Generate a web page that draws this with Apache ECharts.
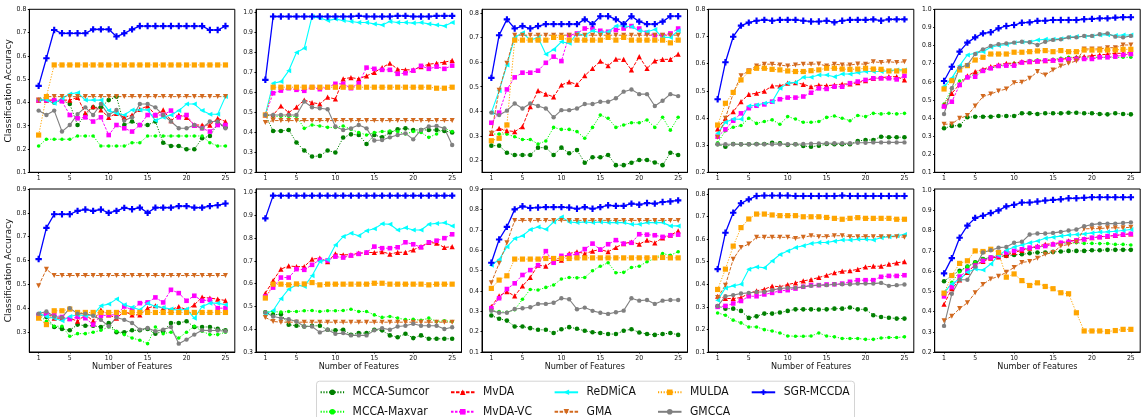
<!DOCTYPE html>
<html>
<head>
<meta charset="utf-8">
<title>Classification accuracy vs. number of features</title>
<script src="https://cdn.jsdelivr.net/npm/echarts@6.0.0/dist/echarts.min.js"></script>
<style>
  html, body { margin: 0; padding: 0; background: #ffffff; }
  #chart { width: 1142px; height: 417px; }
</style>
</head>
<body>
<div id="chart"></div>
<script>
// Number of selected features on the x axis of every panel
const featureCounts = [1, 2, 3, 4, 5, 6, 7, 8, 9, 10, 11, 12, 13, 14, 15, 16, 17, 18, 19, 20, 21, 22, 23, 24, 25];
const xTickValues = [1, 5, 10, 15, 20, 25];

// Accuracy per method: one row per panel (top row left to right, then bottom row)
const mccaSumcor = [
  [0.41, 0.41, 0.40, 0.41, 0.393, 0.303, 0.346, 0.379, 0.379, 0.41, 0.425, 0.303, 0.318, 0.303, 0.303, 0.318, 0.227, 0.213, 0.213, 0.199, 0.199, 0.246, 0.256, 0.308, 0.293],
  [0.487, 0.407, 0.407, 0.412, 0.349, 0.309, 0.279, 0.282, 0.309, 0.299, 0.374, 0.39, 0.387, 0.342, 0.387, 0.375, 0.399, 0.415, 0.42, 0.412, 0.412, 0.412, 0.412, 0.407, 0.399],
  [0.261, 0.261, 0.232, 0.223, 0.223, 0.223, 0.253, 0.253, 0.223, 0.253, 0.23, 0.243, 0.192, 0.214, 0.214, 0.223, 0.182, 0.182, 0.192, 0.203, 0.203, 0.193, 0.182, 0.232, 0.223],
  [0.303, 0.294, 0.304, 0.303, 0.303, 0.304, 0.304, 0.309, 0.307, 0.301, 0.303, 0.297, 0.294, 0.298, 0.304, 0.303, 0.303, 0.303, 0.315, 0.319, 0.319, 0.331, 0.329, 0.329, 0.329],
  [0.343, 0.356, 0.358, 0.404, 0.407, 0.407, 0.407, 0.411, 0.411, 0.411, 0.426, 0.426, 0.422, 0.426, 0.426, 0.426, 0.429, 0.429, 0.426, 0.426, 0.422, 0.42, 0.426, 0.422, 0.42],
  [0.372, 0.363, 0.321, 0.313, 0.307, 0.331, 0.326, 0.326, 0.321, 0.338, 0.299, 0.299, 0.307, 0.307, 0.313, 0.293, 0.303, 0.338, 0.338, 0.345, 0.321, 0.321, 0.321, 0.313, 0.307],
  [0.474, 0.463, 0.466, 0.42, 0.415, 0.412, 0.415, 0.415, 0.398, 0.395, 0.398, 0.376, 0.383, 0.383, 0.398, 0.395, 0.373, 0.365, 0.38, 0.361, 0.373, 0.358, 0.358, 0.358, 0.358],
  [0.279, 0.263, 0.254, 0.225, 0.225, 0.217, 0.209, 0.209, 0.193, 0.212, 0.222, 0.214, 0.204, 0.197, 0.193, 0.188, 0.188, 0.204, 0.212, 0.196, 0.188, 0.184, 0.188, 0.193, 0.184],
  [0.303, 0.292, 0.292, 0.282, 0.251, 0.258, 0.27, 0.27, 0.275, 0.282, 0.289, 0.289, 0.289, 0.288, 0.289, 0.292, 0.292, 0.297, 0.289, 0.289, 0.263, 0.255, 0.252, 0.248, 0.248],
  [0.55, 0.578, 0.602, 0.622, 0.643, 0.659, 0.667, 0.672, 0.675, 0.68, 0.683, 0.688, 0.692, 0.692, 0.695, 0.697, 0.7, 0.7, 0.7, 0.703, 0.703, 0.705, 0.705, 0.705, 0.705]
];
const mccaMaxvar = [
  [0.213, 0.242, 0.242, 0.242, 0.242, 0.256, 0.256, 0.256, 0.213, 0.213, 0.213, 0.213, 0.227, 0.227, 0.256, 0.256, 0.256, 0.256, 0.256, 0.256, 0.256, 0.256, 0.227, 0.213, 0.213],
  [0.487, 0.48, 0.48, 0.48, 0.48, 0.42, 0.437, 0.432, 0.425, 0.424, 0.432, 0.415, 0.399, 0.387, 0.399, 0.404, 0.407, 0.404, 0.392, 0.404, 0.399, 0.375, 0.392, 0.42, 0.404],
  [0.308, 0.308, 0.308, 0.297, 0.286, 0.286, 0.268, 0.28, 0.335, 0.327, 0.327, 0.318, 0.291, 0.335, 0.385, 0.372, 0.335, 0.345, 0.354, 0.354, 0.365, 0.335, 0.376, 0.324, 0.376],
  [0.309, 0.353, 0.366, 0.372, 0.399, 0.38, 0.387, 0.393, 0.377, 0.405, 0.396, 0.384, 0.384, 0.387, 0.402, 0.407, 0.399, 0.39, 0.409, 0.405, 0.417, 0.415, 0.417, 0.415, 0.417],
  [0.477, 0.564, 0.604, 0.624, 0.643, 0.665, 0.674, 0.687, 0.693, 0.702, 0.707, 0.717, 0.72, 0.72, 0.724, 0.729, 0.735, 0.735, 0.735, 0.735, 0.735, 0.735, 0.735, 0.735, 0.735],
  [0.372, 0.345, 0.324, 0.324, 0.282, 0.293, 0.293, 0.299, 0.307, 0.321, 0.303, 0.289, 0.275, 0.265, 0.251, 0.321, 0.293, 0.299, 0.275, 0.299, 0.324, 0.303, 0.289, 0.289, 0.299],
  [0.475, 0.478, 0.475, 0.478, 0.478, 0.481, 0.482, 0.478, 0.481, 0.481, 0.482, 0.488, 0.478, 0.478, 0.463, 0.452, 0.456, 0.449, 0.442, 0.444, 0.439, 0.449, 0.434, 0.437, 0.434],
  [0.303, 0.298, 0.295, 0.307, 0.359, 0.407, 0.404, 0.417, 0.429, 0.458, 0.466, 0.464, 0.466, 0.499, 0.521, 0.538, 0.489, 0.491, 0.515, 0.521, 0.543, 0.559, 0.583, 0.575, 0.592],
  [0.273, 0.263, 0.241, 0.229, 0.211, 0.211, 0.199, 0.193, 0.184, 0.171, 0.17, 0.17, 0.171, 0.184, 0.171, 0.167, 0.16, 0.16, 0.16, 0.156, 0.156, 0.162, 0.164, 0.164, 0.167],
  [0.485, 0.545, 0.597, 0.622, 0.643, 0.659, 0.67, 0.68, 0.687, 0.695, 0.703, 0.713, 0.719, 0.724, 0.732, 0.736, 0.74, 0.74, 0.737, 0.737, 0.736, 0.736, 0.732, 0.732, 0.729]
];
const mvda = [
  [0.41, 0.41, 0.41, 0.41, 0.41, 0.422, 0.353, 0.382, 0.368, 0.336, 0.353, 0.336, 0.346, 0.37, 0.385, 0.346, 0.368, 0.322, 0.346, 0.336, 0.303, 0.303, 0.303, 0.332, 0.318],
  [0.487, 0.487, 0.532, 0.499, 0.526, 0.562, 0.549, 0.542, 0.576, 0.567, 0.668, 0.674, 0.668, 0.683, 0.7, 0.724, 0.746, 0.716, 0.713, 0.713, 0.729, 0.741, 0.746, 0.751, 0.76],
  [0.311, 0.331, 0.322, 0.318, 0.338, 0.419, 0.484, 0.47, 0.459, 0.507, 0.52, 0.509, 0.545, 0.574, 0.604, 0.585, 0.612, 0.611, 0.568, 0.622, 0.574, 0.605, 0.611, 0.611, 0.632],
  [0.36, 0.399, 0.423, 0.46, 0.487, 0.491, 0.499, 0.518, 0.518, 0.528, 0.53, 0.524, 0.515, 0.521, 0.519, 0.521, 0.525, 0.525, 0.53, 0.537, 0.546, 0.548, 0.552, 0.552, 0.54],
  [0.472, 0.536, 0.586, 0.632, 0.656, 0.669, 0.683, 0.693, 0.702, 0.702, 0.711, 0.711, 0.715, 0.717, 0.72, 0.724, 0.729, 0.735, 0.739, 0.744, 0.748, 0.752, 0.757, 0.757, 0.761],
  [0.372, 0.379, 0.358, 0.358, 0.358, 0.345, 0.372, 0.347, 0.393, 0.372, 0.358, 0.386, 0.372, 0.372, 0.4, 0.41, 0.4, 0.393, 0.407, 0.393, 0.414, 0.446, 0.442, 0.438, 0.432],
  [0.558, 0.614, 0.664, 0.678, 0.675, 0.675, 0.708, 0.712, 0.697, 0.731, 0.727, 0.727, 0.734, 0.737, 0.737, 0.741, 0.73, 0.738, 0.738, 0.749, 0.763, 0.781, 0.778, 0.759, 0.763],
  [0.323, 0.375, 0.396, 0.375, 0.424, 0.466, 0.526, 0.521, 0.548, 0.551, 0.583, 0.592, 0.583, 0.595, 0.603, 0.592, 0.613, 0.632, 0.64, 0.629, 0.649, 0.636, 0.66, 0.673, 0.694],
  [0.347, 0.337, 0.337, 0.341, 0.359, 0.371, 0.378, 0.392, 0.389, 0.399, 0.406, 0.415, 0.421, 0.43, 0.44, 0.451, 0.458, 0.46, 0.466, 0.477, 0.48, 0.48, 0.489, 0.495, 0.5],
  [0.436, 0.513, 0.557, 0.594, 0.631, 0.648, 0.664, 0.67, 0.679, 0.692, 0.703, 0.713, 0.724, 0.732, 0.736, 0.74, 0.749, 0.752, 0.76, 0.765, 0.77, 0.773, 0.776, 0.781, 0.784]
];
const mvdaVc = [
  [0.41, 0.41, 0.41, 0.405, 0.346, 0.332, 0.336, 0.318, 0.336, 0.26, 0.303, 0.289, 0.275, 0.303, 0.346, 0.346, 0.346, 0.365, 0.336, 0.346, 0.3, 0.289, 0.275, 0.303, 0.303],
  [0.487, 0.596, 0.609, 0.621, 0.613, 0.608, 0.626, 0.616, 0.626, 0.643, 0.643, 0.621, 0.646, 0.724, 0.718, 0.713, 0.713, 0.693, 0.696, 0.709, 0.733, 0.718, 0.729, 0.718, 0.734],
  [0.354, 0.395, 0.489, 0.538, 0.557, 0.557, 0.565, 0.597, 0.622, 0.604, 0.709, 0.716, 0.736, 0.736, 0.727, 0.723, 0.73, 0.736, 0.746, 0.736, 0.719, 0.709, 0.709, 0.716, 0.736],
  [0.331, 0.358, 0.39, 0.417, 0.436, 0.445, 0.45, 0.46, 0.469, 0.475, 0.475, 0.479, 0.493, 0.509, 0.507, 0.515, 0.515, 0.528, 0.534, 0.54, 0.546, 0.546, 0.546, 0.542, 0.555],
  [0.463, 0.49, 0.582, 0.624, 0.628, 0.66, 0.674, 0.687, 0.689, 0.689, 0.706, 0.711, 0.713, 0.717, 0.717, 0.72, 0.724, 0.726, 0.726, 0.726, 0.735, 0.735, 0.739, 0.748, 0.753],
  [0.372, 0.372, 0.372, 0.363, 0.354, 0.363, 0.358, 0.331, 0.368, 0.372, 0.372, 0.407, 0.393, 0.421, 0.424, 0.445, 0.424, 0.477, 0.463, 0.431, 0.452, 0.431, 0.435, 0.4, 0.4],
  [0.544, 0.583, 0.627, 0.627, 0.664, 0.661, 0.683, 0.705, 0.702, 0.719, 0.715, 0.724, 0.731, 0.737, 0.763, 0.756, 0.756, 0.76, 0.782, 0.773, 0.76, 0.782, 0.789, 0.8, 0.817],
  [0.315, 0.364, 0.409, 0.437, 0.478, 0.502, 0.526, 0.595, 0.538, 0.572, 0.575, 0.58, 0.605, 0.632, 0.603, 0.629, 0.649, 0.632, 0.636, 0.678, 0.676, 0.673, 0.665, 0.673, 0.676],
  [0.3, 0.304, 0.315, 0.326, 0.347, 0.347, 0.355, 0.362, 0.371, 0.374, 0.381, 0.389, 0.396, 0.396, 0.399, 0.4, 0.403, 0.411, 0.418, 0.418, 0.418, 0.433, 0.437, 0.437, 0.44],
  [0.475, 0.521, 0.573, 0.602, 0.627, 0.651, 0.667, 0.675, 0.692, 0.7, 0.708, 0.716, 0.719, 0.724, 0.732, 0.74, 0.745, 0.752, 0.757, 0.765, 0.768, 0.773, 0.776, 0.781, 0.784]
];
const redmica = [
  [0.413, 0.41, 0.396, 0.418, 0.436, 0.442, 0.41, 0.41, 0.41, 0.365, 0.353, 0.346, 0.368, 0.368, 0.368, 0.322, 0.336, 0.346, 0.365, 0.393, 0.393, 0.365, 0.349, 0.349, 0.425],
  [0.487, 0.646, 0.654, 0.708, 0.8, 0.821, 0.98, 0.972, 0.96, 0.967, 0.96, 0.955, 0.95, 0.95, 0.943, 0.938, 0.955, 0.95, 0.95, 0.947, 0.95, 0.943, 0.938, 0.933, 0.95],
  [0.395, 0.484, 0.588, 0.7, 0.719, 0.689, 0.7, 0.632, 0.651, 0.682, 0.676, 0.716, 0.709, 0.727, 0.719, 0.723, 0.746, 0.746, 0.743, 0.727, 0.723, 0.732, 0.7, 0.7, 0.727],
  [0.344, 0.384, 0.396, 0.395, 0.444, 0.448, 0.454, 0.46, 0.509, 0.528, 0.531, 0.55, 0.55, 0.558, 0.558, 0.552, 0.562, 0.562, 0.567, 0.571, 0.571, 0.571, 0.574, 0.577, 0.577],
  [0.575, 0.62, 0.689, 0.748, 0.757, 0.766, 0.79, 0.8, 0.805, 0.815, 0.82, 0.82, 0.83, 0.835, 0.835, 0.838, 0.845, 0.85, 0.85, 0.853, 0.858, 0.86, 0.855, 0.858, 0.858],
  [0.379, 0.365, 0.358, 0.347, 0.365, 0.372, 0.368, 0.372, 0.41, 0.417, 0.438, 0.414, 0.404, 0.393, 0.421, 0.407, 0.403, 0.396, 0.391, 0.396, 0.358, 0.407, 0.421, 0.421, 0.414],
  [0.468, 0.482, 0.534, 0.576, 0.595, 0.588, 0.635, 0.697, 0.705, 0.77, 0.807, 0.822, 0.811, 0.833, 0.841, 0.863, 0.861, 0.836, 0.846, 0.836, 0.836, 0.861, 0.865, 0.868, 0.854],
  [0.526, 0.554, 0.616, 0.657, 0.67, 0.701, 0.714, 0.702, 0.738, 0.763, 0.738, 0.735, 0.738, 0.735, 0.738, 0.735, 0.735, 0.735, 0.727, 0.727, 0.735, 0.735, 0.735, 0.719, 0.719],
  [0.329, 0.384, 0.393, 0.4, 0.467, 0.477, 0.473, 0.503, 0.532, 0.547, 0.563, 0.571, 0.581, 0.585, 0.585, 0.591, 0.596, 0.596, 0.599, 0.599, 0.596, 0.606, 0.611, 0.615, 0.621],
  [0.496, 0.537, 0.561, 0.594, 0.61, 0.605, 0.635, 0.679, 0.703, 0.719, 0.729, 0.74, 0.749, 0.762, 0.768, 0.773, 0.778, 0.781, 0.784, 0.789, 0.793, 0.794, 0.797, 0.801, 0.806]
];
const gma = [
  [0.41, 0.425, 0.425, 0.425, 0.425, 0.425, 0.425, 0.425, 0.425, 0.425, 0.425, 0.425, 0.425, 0.425, 0.425, 0.425, 0.425, 0.425, 0.425, 0.425, 0.425, 0.425, 0.425, 0.425, 0.425],
  [0.449, 0.459, 0.459, 0.459, 0.459, 0.459, 0.459, 0.459, 0.459, 0.459, 0.459, 0.459, 0.459, 0.459, 0.459, 0.459, 0.459, 0.459, 0.459, 0.459, 0.459, 0.459, 0.459, 0.459, 0.459],
  [0.311, 0.486, 0.595, 0.709, 0.709, 0.709, 0.709, 0.709, 0.709, 0.709, 0.709, 0.709, 0.709, 0.709, 0.709, 0.709, 0.709, 0.709, 0.709, 0.709, 0.709, 0.709, 0.709, 0.709, 0.709],
  [0.329, 0.399, 0.491, 0.555, 0.574, 0.591, 0.598, 0.598, 0.595, 0.591, 0.595, 0.598, 0.598, 0.599, 0.591, 0.598, 0.595, 0.595, 0.599, 0.598, 0.607, 0.604, 0.607, 0.604, 0.607],
  [0.365, 0.367, 0.398, 0.413, 0.466, 0.518, 0.532, 0.549, 0.56, 0.595, 0.597, 0.619, 0.656, 0.637, 0.665, 0.687, 0.702, 0.715, 0.781, 0.781, 0.781, 0.788, 0.788, 0.803, 0.803],
  [0.494, 0.563, 0.537, 0.537, 0.537, 0.537, 0.537, 0.537, 0.537, 0.537, 0.537, 0.537, 0.537, 0.537, 0.537, 0.537, 0.537, 0.537, 0.537, 0.537, 0.537, 0.537, 0.537, 0.537, 0.537],
  [0.452, 0.434, 0.431, 0.431, 0.431, 0.431, 0.431, 0.431, 0.431, 0.431, 0.431, 0.431, 0.431, 0.431, 0.431, 0.431, 0.431, 0.431, 0.431, 0.431, 0.431, 0.431, 0.431, 0.431, 0.431],
  [0.44, 0.535, 0.636, 0.746, 0.746, 0.746, 0.746, 0.746, 0.746, 0.746, 0.746, 0.746, 0.746, 0.746, 0.746, 0.746, 0.746, 0.746, 0.746, 0.746, 0.746, 0.746, 0.746, 0.746, 0.746],
  [0.341, 0.396, 0.511, 0.563, 0.578, 0.608, 0.608, 0.608, 0.608, 0.608, 0.603, 0.608, 0.615, 0.611, 0.611, 0.615, 0.615, 0.611, 0.611, 0.611, 0.611, 0.611, 0.611, 0.611, 0.608],
  [0.355, 0.377, 0.415, 0.443, 0.493, 0.534, 0.561, 0.574, 0.594, 0.618, 0.643, 0.648, 0.664, 0.683, 0.692, 0.724, 0.732, 0.744, 0.809, 0.81, 0.81, 0.814, 0.814, 0.814, 0.817]
];
const mulda = [
  [0.26, 0.425, 0.561, 0.561, 0.561, 0.561, 0.561, 0.561, 0.561, 0.561, 0.561, 0.561, 0.561, 0.561, 0.561, 0.561, 0.561, 0.561, 0.561, 0.561, 0.561, 0.561, 0.561, 0.561, 0.561],
  [0.487, 0.626, 0.626, 0.626, 0.626, 0.626, 0.626, 0.626, 0.626, 0.626, 0.626, 0.626, 0.626, 0.626, 0.626, 0.626, 0.626, 0.626, 0.626, 0.626, 0.626, 0.626, 0.621, 0.621, 0.626],
  [0.281, 0.291, 0.345, 0.689, 0.689, 0.689, 0.689, 0.689, 0.7, 0.7, 0.689, 0.689, 0.689, 0.689, 0.689, 0.7, 0.689, 0.7, 0.689, 0.689, 0.689, 0.689, 0.689, 0.678, 0.689],
  [0.374, 0.454, 0.494, 0.54, 0.571, 0.583, 0.583, 0.579, 0.577, 0.573, 0.571, 0.571, 0.574, 0.577, 0.583, 0.583, 0.58, 0.579, 0.58, 0.583, 0.58, 0.579, 0.573, 0.573, 0.573],
  [0.56, 0.606, 0.665, 0.689, 0.72, 0.735, 0.753, 0.753, 0.753, 0.763, 0.763, 0.766, 0.77, 0.772, 0.766, 0.772, 0.766, 0.766, 0.775, 0.775, 0.775, 0.775, 0.775, 0.779, 0.779],
  [0.358, 0.331, 0.389, 0.389, 0.396, 0.382, 0.382, 0.382, 0.382, 0.382, 0.382, 0.382, 0.382, 0.382, 0.382, 0.382, 0.382, 0.382, 0.382, 0.382, 0.382, 0.382, 0.382, 0.382, 0.382],
  [0.537, 0.598, 0.598, 0.595, 0.599, 0.599, 0.605, 0.595, 0.598, 0.598, 0.598, 0.598, 0.598, 0.598, 0.602, 0.602, 0.598, 0.598, 0.598, 0.598, 0.598, 0.595, 0.598, 0.598, 0.598],
  [0.412, 0.453, 0.474, 0.556, 0.556, 0.556, 0.556, 0.559, 0.559, 0.559, 0.559, 0.562, 0.562, 0.562, 0.562, 0.562, 0.562, 0.562, 0.562, 0.562, 0.562, 0.562, 0.564, 0.562, 0.562],
  [0.377, 0.467, 0.569, 0.651, 0.689, 0.711, 0.711, 0.707, 0.704, 0.704, 0.704, 0.699, 0.699, 0.699, 0.696, 0.692, 0.688, 0.692, 0.695, 0.692, 0.692, 0.692, 0.692, 0.688, 0.688],
  [0.491, 0.578, 0.638, 0.651, 0.7, 0.697, 0.708, 0.692, 0.57, 0.586, 0.553, 0.529, 0.542, 0.524, 0.513, 0.493, 0.488, 0.394, 0.304, 0.304, 0.304, 0.301, 0.306, 0.312, 0.312]
];
const gmcca = [
  [0.365, 0.346, 0.365, 0.275, 0.303, 0.35, 0.379, 0.346, 0.393, 0.346, 0.368, 0.322, 0.336, 0.393, 0.393, 0.379, 0.346, 0.318, 0.289, 0.289, 0.303, 0.289, 0.318, 0.318, 0.289],
  [0.487, 0.487, 0.487, 0.487, 0.487, 0.554, 0.526, 0.521, 0.516, 0.429, 0.412, 0.42, 0.437, 0.42, 0.359, 0.362, 0.375, 0.387, 0.395, 0.365, 0.412, 0.429, 0.432, 0.42, 0.337],
  [0.395, 0.385, 0.403, 0.432, 0.412, 0.432, 0.422, 0.412, 0.376, 0.405, 0.405, 0.412, 0.43, 0.43, 0.439, 0.439, 0.453, 0.48, 0.489, 0.47, 0.47, 0.422, 0.443, 0.47, 0.462],
  [0.303, 0.303, 0.303, 0.303, 0.303, 0.303, 0.303, 0.303, 0.303, 0.303, 0.303, 0.304, 0.305, 0.306, 0.307, 0.307, 0.307, 0.307, 0.309, 0.309, 0.31, 0.31, 0.31, 0.31, 0.31],
  [0.422, 0.564, 0.678, 0.693, 0.753, 0.779, 0.798, 0.807, 0.812, 0.816, 0.821, 0.818, 0.803, 0.821, 0.831, 0.834, 0.845, 0.845, 0.853, 0.853, 0.862, 0.867, 0.849, 0.845, 0.853],
  [0.377, 0.386, 0.365, 0.361, 0.4, 0.377, 0.377, 0.368, 0.351, 0.324, 0.361, 0.351, 0.338, 0.31, 0.317, 0.303, 0.31, 0.321, 0.251, 0.268, 0.289, 0.307, 0.306, 0.306, 0.303],
  [0.474, 0.456, 0.449, 0.444, 0.434, 0.412, 0.412, 0.386, 0.398, 0.38, 0.383, 0.373, 0.373, 0.373, 0.395, 0.405, 0.398, 0.412, 0.415, 0.424, 0.415, 0.415, 0.415, 0.401, 0.409],
  [0.303, 0.293, 0.293, 0.311, 0.315, 0.32, 0.336, 0.336, 0.342, 0.364, 0.359, 0.31, 0.318, 0.302, 0.293, 0.287, 0.295, 0.303, 0.364, 0.352, 0.355, 0.336, 0.352, 0.355, 0.355],
  [0.303, 0.347, 0.352, 0.359, 0.362, 0.366, 0.366, 0.374, 0.381, 0.384, 0.384, 0.389, 0.393, 0.396, 0.396, 0.4, 0.4, 0.4, 0.403, 0.403, 0.403, 0.406, 0.393, 0.396, 0.399],
  [0.329, 0.488, 0.557, 0.557, 0.622, 0.692, 0.703, 0.716, 0.719, 0.74, 0.745, 0.781, 0.786, 0.786, 0.789, 0.794, 0.801, 0.806, 0.822, 0.83, 0.835, 0.835, 0.835, 0.838, 0.841]
];
const sgrMccda = [
  [0.471, 0.59, 0.711, 0.697, 0.697, 0.697, 0.697, 0.714, 0.714, 0.714, 0.683, 0.697, 0.714, 0.728, 0.728, 0.728, 0.728, 0.728, 0.728, 0.728, 0.728, 0.728, 0.711, 0.711, 0.728],
  [0.663, 0.98, 0.98, 0.98, 0.98, 0.98, 0.98, 0.98, 0.98, 0.98, 0.98, 0.98, 0.983, 0.98, 0.98, 0.98, 0.98, 0.983, 0.983, 0.98, 0.98, 0.98, 0.983, 0.983, 0.983],
  [0.536, 0.709, 0.773, 0.736, 0.746, 0.736, 0.746, 0.754, 0.754, 0.754, 0.754, 0.754, 0.773, 0.754, 0.786, 0.786, 0.773, 0.754, 0.786, 0.764, 0.754, 0.754, 0.764, 0.786, 0.786],
  [0.469, 0.605, 0.699, 0.74, 0.751, 0.758, 0.761, 0.758, 0.761, 0.761, 0.761, 0.758, 0.755, 0.755, 0.758, 0.752, 0.758, 0.761, 0.761, 0.761, 0.763, 0.758, 0.763, 0.763, 0.763],
  [0.604, 0.683, 0.766, 0.816, 0.845, 0.867, 0.873, 0.895, 0.908, 0.913, 0.926, 0.928, 0.936, 0.937, 0.941, 0.941, 0.941, 0.941, 0.945, 0.947, 0.95, 0.95, 0.954, 0.956, 0.956],
  [0.606, 0.737, 0.794, 0.794, 0.794, 0.808, 0.814, 0.808, 0.814, 0.8, 0.808, 0.821, 0.815, 0.822, 0.8, 0.822, 0.822, 0.822, 0.828, 0.828, 0.822, 0.822, 0.828, 0.832, 0.839],
  [0.887, 0.987, 0.987, 0.987, 0.987, 0.987, 0.987, 0.987, 0.987, 0.987, 0.987, 0.987, 0.987, 0.987, 0.987, 0.987, 0.987, 0.987, 0.987, 0.987, 0.987, 0.987, 0.987, 0.987, 0.987],
  [0.538, 0.652, 0.714, 0.8, 0.815, 0.807, 0.809, 0.811, 0.811, 0.811, 0.809, 0.803, 0.811, 0.803, 0.811, 0.82, 0.817, 0.817, 0.828, 0.823, 0.831, 0.828, 0.836, 0.839, 0.844],
  [0.467, 0.628, 0.717, 0.759, 0.776, 0.791, 0.793, 0.793, 0.793, 0.793, 0.791, 0.791, 0.791, 0.791, 0.791, 0.791, 0.793, 0.791, 0.791, 0.791, 0.791, 0.791, 0.791, 0.791, 0.791],
  [0.589, 0.664, 0.765, 0.825, 0.863, 0.874, 0.887, 0.9, 0.92, 0.928, 0.939, 0.939, 0.944, 0.949, 0.952, 0.955, 0.96, 0.96, 0.963, 0.965, 0.965, 0.965, 0.965, 0.965, 0.965]
];

// Y tick labels of each panel
const yTickValues = [
  [0.1, 0.2, 0.3, 0.4, 0.5, 0.6, 0.7, 0.8],
  [0.2, 0.3, 0.4, 0.5, 0.6, 0.7, 0.8, 0.9, 1.0],
  [0.2, 0.3, 0.4, 0.5, 0.6, 0.7, 0.8],
  [0.2, 0.3, 0.4, 0.5, 0.6, 0.7, 0.8],
  [0.1, 0.2, 0.3, 0.4, 0.5, 0.6, 0.7, 0.8, 0.9, 1.0],
  [0.3, 0.4, 0.5, 0.6, 0.7, 0.8, 0.9],
  [0.3, 0.4, 0.5, 0.6, 0.7, 0.8, 0.9, 1.0],
  [0.1, 0.2, 0.3, 0.4, 0.5, 0.6, 0.7, 0.8, 0.9],
  [0.1, 0.2, 0.3, 0.4, 0.5, 0.6, 0.7, 0.8],
  [0.2, 0.3, 0.4, 0.5, 0.6, 0.7, 0.8, 0.9, 1.0]
];
// Y extent of each panel
const yRanges = [
  [0.1, 0.8], [0.2, 1.016], [0.153, 0.814], [0.2, 0.8], [0.1, 1.0],
  [0.216, 0.9], [0.3, 1.016], [0.1, 0.9], [0.1, 0.822], [0.2, 1.006]
];

const CONDENSED = "'DejaVu Sans Condensed', 'DejaVu Sans', sans-serif";
const REGULAR = "'DejaVu Sans', sans-serif";
const PLUS = 'path://M1,0H2V1H3V2H2V3H1V2H0V1H1Z';

const methods = [
  { name: 'MCCA-Sumcor', values: mccaSumcor, color: '#008000', symbol: 'circle', size: 4.6, dash: [1.2, 1.6], width: 1 },
  { name: 'MCCA-Maxvar', values: mccaMaxvar, color: '#00ff00', symbol: 'circle', size: 3.6, dash: [1.2, 1.6], width: 1 },
  { name: 'MvDA', values: mvda, color: '#ff0000', symbol: 'triangle', size: 5.2, dash: [3.5, 1.5], width: 1 },
  { name: 'MvDA-VC', values: mvdaVc, color: '#ff00ff', symbol: 'rect', size: 4.6, dash: [2.5, 1.5], width: 1 },
  { name: 'ReDMiCA', values: redmica, color: '#00ffff', symbol: 'triangle', rotate: 90, size: 5, dash: 'solid', width: 1.1 },
  { name: 'GMA', values: gma, color: '#d2691e', symbol: 'triangle', rotate: 180, size: 5, dash: [3.5, 1.5], width: 1 },
  { name: 'MULDA', values: mulda, color: '#ffa500', symbol: 'rect', size: 5.2, dash: [1.2, 1.6], width: 1 },
  { name: 'GMCCA', values: gmcca, color: '#808080', symbol: 'circle', size: 4.4, dash: 'solid', width: 1.1 },
  { name: 'SGR-MCCDA', values: sgrMccda, color: '#0000ff', symbol: PLUS, size: 6.4, dash: 'solid', width: 1.3 }
];

// Panel layout: five columns, two rows
const colLeft = [29.3, 256, 482, 708.3, 934.7];
const rowTop = [9.3, 189];
const panelW = 205.5, panelH = 163;

const grids = [], xAxes = [], yAxes = [], series = [];
for (let p = 0; p < 10; p++) {
  const row = Math.floor(p / 5), col = p % 5;
  grids.push({
    left: colLeft[col], top: rowTop[row], width: panelW, height: panelH,
    show: true, borderColor: '#000', borderWidth: 1, backgroundColor: 'transparent'
  });
  xAxes.push({
    gridIndex: p, type: 'value', min: -0.2, max: 26.2,
    axisLine: { show: true, onZero: false, lineStyle: { color: '#000', width: 1 } },
    axisTick: { show: true, length: 1.5, customValues: xTickValues, lineStyle: { color: '#000' } },
    axisLabel: { customValues: xTickValues, fontSize: 6.8, fontFamily: CONDENSED, color: '#111', margin: 2.5 },
    splitLine: { show: false },
    name: row === 1 ? 'Number of Features' : '',
    nameLocation: 'middle', nameGap: 7.5,
    nameTextStyle: { fontSize: 9, fontFamily: CONDENSED, color: '#111' }
  });
  yAxes.push({
    gridIndex: p, type: 'value', min: yRanges[p][0], max: yRanges[p][1],
    axisLine: { show: true, onZero: false, lineStyle: { color: '#000', width: 1 } },
    axisTick: { show: true, length: 1.5, customValues: yTickValues[p], lineStyle: { color: '#000' } },
    axisLabel: {
      customValues: yTickValues[p], fontSize: 6.8, fontFamily: CONDENSED, color: '#111', margin: 3,
      formatter: v => Number(v).toFixed(1)
    },
    splitLine: { show: false },
    name: col === 0 ? 'Classification Accuracy' : '',
    nameLocation: 'middle', nameGap: 12, nameRotate: 90,
    nameTextStyle: { fontSize: 9, fontFamily: REGULAR, color: '#111' }
  });
  methods.forEach(m => {
    series.push({
      name: m.name, type: 'line', xAxisIndex: p, yAxisIndex: p,
      data: featureCounts.map((f, i) => [f, m.values[p][i]]),
      symbol: m.symbol, symbolSize: m.size, symbolRotate: m.rotate || 0,
      showSymbol: true, showAllSymbol: true, clip: false,
      lineStyle: { color: m.color, width: m.width, type: m.dash },
      itemStyle: { color: m.color, borderWidth: 0 },
      emphasis: { disabled: true }, silent: true
    });
  });
}

// Legend laid out column by column, two rows
const legendCols = [319.6, 450, 553.6, 657, 750.7];
const legendRows = [386.3, 405.8];
const legends = methods.map((m, i) => ({
  data: [m.name],
  left: legendCols[Math.floor(i / 2)], top: legendRows[i % 2],
  orient: 'horizontal', padding: 0, itemWidth: 23.5, itemHeight: 7,
  selectedMode: false,
  textStyle: { fontSize: 12, fontFamily: CONDENSED, color: '#111', padding: [0, 0, 0, 3.5] }
}));

const chart = echarts.init(document.getElementById('chart'), null, { renderer: 'canvas' });
chart.setOption({
  backgroundColor: '#ffffff',
  animation: false,
  grid: grids,
  xAxis: xAxes,
  yAxis: yAxes,
  legend: legends,
  graphic: [{
    type: 'rect', left: 316, top: 380.7, z: -10, silent: true,
    shape: { width: 538, height: 50, r: 3 },
    style: { fill: '#ffffff', stroke: '#d4d4d4', lineWidth: 1 }
  }],
  series: series
});
</script>
</body>
</html>
